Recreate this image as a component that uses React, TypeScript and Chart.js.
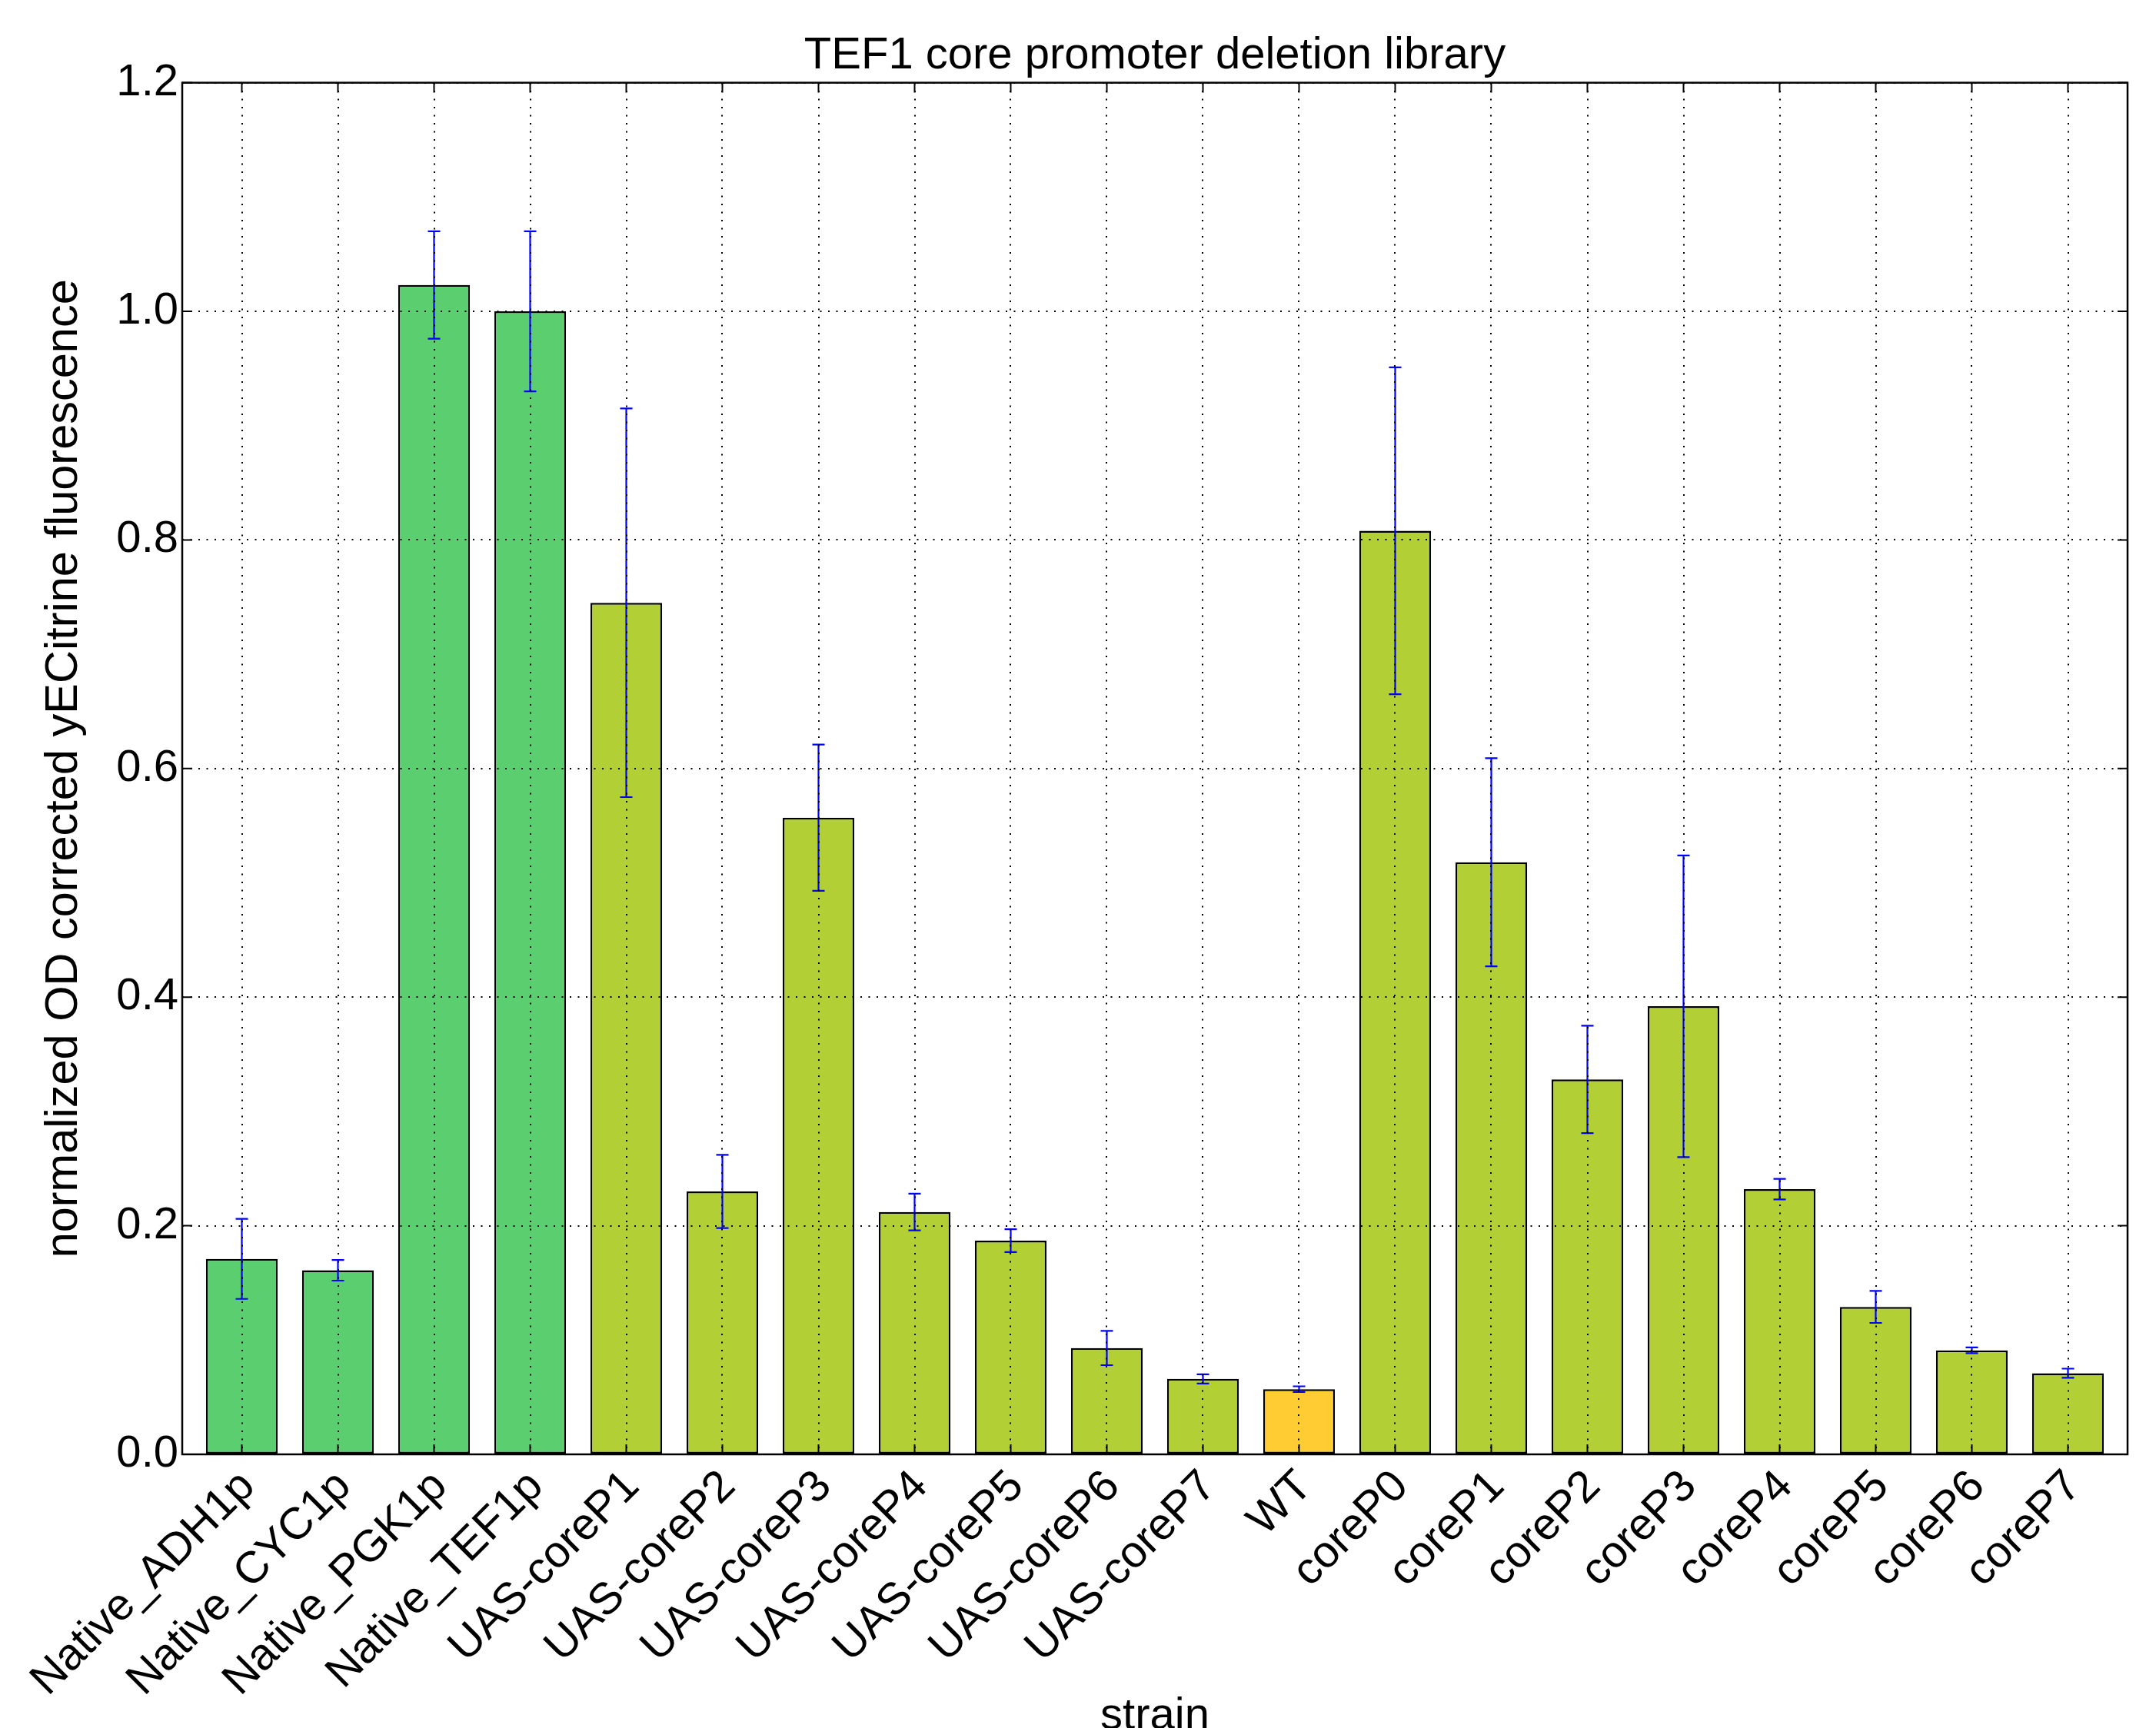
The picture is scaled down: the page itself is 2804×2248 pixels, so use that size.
import React, { useEffect, useRef } from "react";
import { Chart, registerables } from "chart.js";

Chart.register(...registerables);

// ---- data ----
const strains = [
  "Native_ADH1p", "Native_CYC1p", "Native_PGK1p", "Native_TEF1p",
  "UAS-coreP1", "UAS-coreP2", "UAS-coreP3", "UAS-coreP4", "UAS-coreP5", "UAS-coreP6", "UAS-coreP7",
  "WT",
  "coreP0", "coreP1", "coreP2", "coreP3", "coreP4", "coreP5", "coreP6", "coreP7",
];
const fluorescence = [
  0.171, 0.161, 1.023, 1.0,
  0.745, 0.230, 0.557, 0.212, 0.187, 0.093, 0.066,
  0.057,
  0.808, 0.518, 0.328, 0.392, 0.232, 0.129, 0.091, 0.071,
];
const errors = [
  0.035, 0.009, 0.047, 0.070,
  0.170, 0.032, 0.064, 0.016, 0.010, 0.015, 0.004,
  0.0025,
  0.143, 0.091, 0.047, 0.132, 0.009, 0.014, 0.0025, 0.004,
];
const groups = [
  "native", "native", "native", "native",
  "uas", "uas", "uas", "uas", "uas", "uas", "uas",
  "wt",
  "core", "core", "core", "core", "core", "core", "core", "core",
];
const yTicks = [0, 0.2, 0.4, 0.6, 0.8, 1.0, 1.2];

const groupColors: Record<string, string> = {
  native: "#5bce70",
  uas: "#b2cf35",
  wt: "#ffcc33",
  core: "#b2cf35",
};

const FONT = "'Liberation Sans', Arial, Helvetica, sans-serif";
const FS = 58;

const errorBarPlugin = {
  id: "errorBars",
  afterDatasetsDraw(chart: any) {
    const { ctx } = chart;
    const meta = chart.getDatasetMeta(0);
    const y = chart.scales.y;
    ctx.save();
    ctx.strokeStyle = "#0000ff";
    ctx.lineWidth = 2.2;
    meta.data.forEach((bar: any, i: number) => {
      const x = bar.x;
      const top = y.getPixelForValue(fluorescence[i] + errors[i]);
      const bot = y.getPixelForValue(fluorescence[i] - errors[i]);
      ctx.beginPath();
      ctx.moveTo(x, top);
      ctx.lineTo(x, bot);
      ctx.moveTo(x - 8, top);
      ctx.lineTo(x + 8, top);
      ctx.moveTo(x - 8, bot);
      ctx.lineTo(x + 8, bot);
      ctx.stroke();
    });
    ctx.restore();
  },
};

const framePlugin = {
  id: "frame",
  afterDraw(chart: any) {
    const { ctx, chartArea: a } = chart;
    const x = chart.scales.x;
    const y = chart.scales.y;
    ctx.save();
    ctx.strokeStyle = "#000";
    ctx.lineWidth = 2;
    const L = 13;
    ctx.beginPath();
    x.ticks.forEach((t: any) => {
      const px = x.getPixelForValue(t.value);
      ctx.moveTo(px, a.bottom);
      ctx.lineTo(px, a.bottom - L);
      ctx.moveTo(px, a.top);
      ctx.lineTo(px, a.top + L);
    });
    y.ticks.forEach((t: any) => {
      const py = y.getPixelForValue(t.value);
      ctx.moveTo(a.left, py);
      ctx.lineTo(a.left + L, py);
      ctx.moveTo(a.right, py);
      ctx.lineTo(a.right - L, py);
    });
    ctx.stroke();
    ctx.lineWidth = 2.5;
    ctx.strokeRect(a.left, a.top, a.right - a.left, a.bottom - a.top);
    ctx.restore();
  },
};

export default function App() {
  const canvasRef = useRef<HTMLCanvasElement>(null);

  useEffect(() => {
    Chart.defaults.color = "#000";
    Chart.defaults.font.family = FONT;
    const chart = new Chart(canvasRef.current as HTMLCanvasElement, {
      type: "bar",
      data: {
        datasets: [
          {
            data: strains.map((_, i) => ({ x: i, y: fluorescence[i] })),
            backgroundColor: groups.map((g) => groupColors[g]),
            borderColor: "#000",
            borderWidth: 2.5,
            borderSkipped: false,
            categoryPercentage: 1,
            barPercentage: 0.746,
          } as any,
        ],
      },
      options: {
        responsive: false,
        maintainAspectRatio: false,
        devicePixelRatio: 1,
        animation: false,
        layout: { padding: { left: 0, right: 37, top: 0, bottom: 0 } },
        plugins: {
          legend: { display: false },
          tooltip: { enabled: false },
          title: {
            display: true,
            text: "TEF1 core promoter deletion library",
            fullSize: false,
            color: "#000",
            font: { size: FS, family: FONT, weight: "normal" },
            padding: { top: 38, bottom: 0 },
          },
        },
        scales: {
          x: {
            type: "linear",
            min: -0.62,
            max: 19.62,
            bounds: "data",
            offset: false,
            afterBuildTicks: (scale: any) => {
              scale.ticks = strains.map((_, i) => ({ value: i }));
            },
            afterFit: (scale: any) => {
              scale.height = 356;
              scale.paddingLeft = 0;
              scale.paddingRight = 0;
            },
            grid: { display: true, offset: false, color: "#000", lineWidth: 2, drawTicks: false, z: 1 },
            border: { display: false, dash: [2, 8.5] },
            ticks: {
              autoSkip: false,
              maxRotation: 45,
              minRotation: 45,
              padding: 8,
              labelOffset: 8,
              color: "#000",
              font: { size: FS, family: FONT },
              callback: (_v: any, i: number) => strains[i],
            },
            title: {
              display: true,
              text: "strain",
              color: "#000",
              font: { size: FS, family: FONT },
              padding: { top: 0, bottom: -20 },
            },
          } as any,
          y: {
            type: "linear",
            min: 0,
            max: 1.2,
            afterBuildTicks: (scale: any) => {
              scale.ticks = yTicks.map((v) => ({ value: v }));
            },
            afterFit: (scale: any) => {
              scale.width = 237;
            },
            grid: { display: true, color: "#000", lineWidth: 2, drawTicks: false, z: 1 },
            border: { display: false, dash: [2, 8.5] },
            ticks: {
              padding: 5,
              color: "#000",
              font: { size: FS, family: FONT },
              callback: (v: any) => Number(v).toFixed(1),
            },
            title: {
              display: true,
              text: "normalized OD corrected yECitrine fluorescence",
              color: "#000",
              font: { size: 59.5, family: FONT },
              padding: { top: 48, bottom: 0 },
            },
          } as any,
        },
      },
      plugins: [errorBarPlugin, framePlugin],
    });
    return () => chart.destroy();
  }, []);

  return (
    <div style={{ position: "fixed", left: 0, top: 0, width: 2804, height: 2248, background: "#fff" }}>
      <canvas
        ref={canvasRef}
        width={2804}
        height={2248}
        style={{ width: 2804, height: 2248, display: "block" }}
      />
    </div>
  );
}
